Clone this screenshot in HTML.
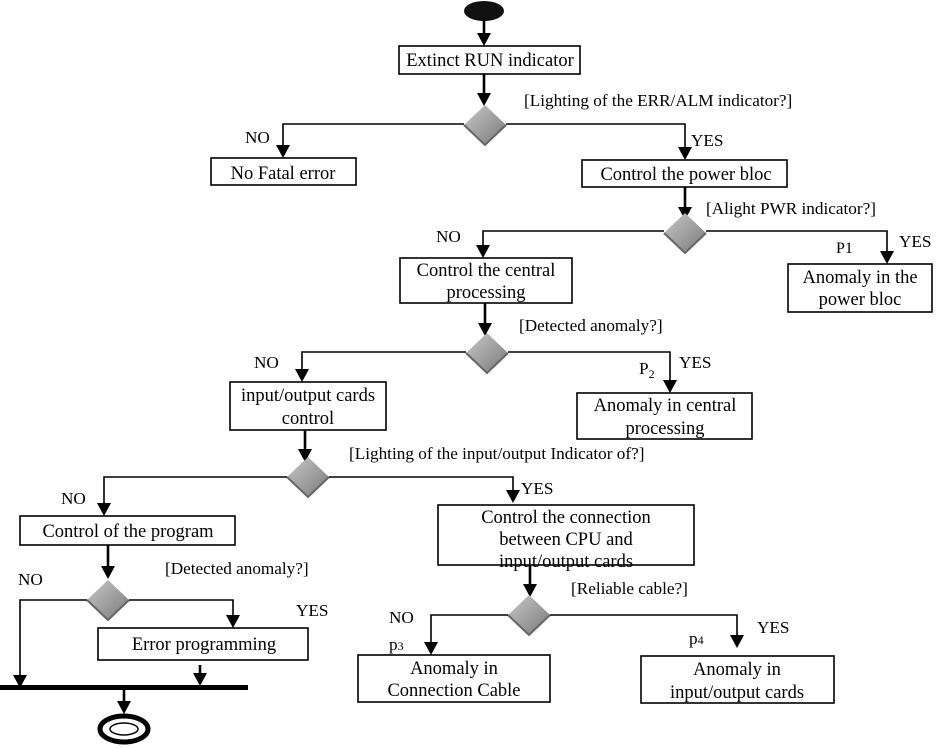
<!DOCTYPE html>
<html><head><meta charset="utf-8"><style>
html,body{margin:0;padding:0;background:#fff;}
svg{display:block;}
text{font-family:"Liberation Serif",serif;font-size:17.2px;fill:#000;}
text.t{font-size:18.5px;}
.b{fill:#fff;stroke:#000;stroke-width:1.6;}
.l{stroke:#000;stroke-width:1.6;fill:none;}
.v{stroke:#000;stroke-width:2.6;fill:none;}
</style></head><body>
<svg width="937" height="748" viewBox="0 0 937 748" xmlns="http://www.w3.org/2000/svg">
<defs>
<linearGradient id="g" x1="0" y1="0" x2="1" y2="1"><stop offset="0" stop-color="#c8c8c8"/><stop offset="0.6" stop-color="#999"/><stop offset="1" stop-color="#777"/></linearGradient>
<g id="d"><polygon points="0,-20 21,0 0,20 -21,0" fill="url(#g)"/><polyline points="21,0 0,20 -21,0" fill="none" stroke="#666" stroke-width="2"/></g>
<g id="ah"><polygon points="-7,-13 7,-13 0,0" fill="#000"/></g>
</defs>
<ellipse cx="484" cy="11" rx="20" ry="10" fill="#111"/>
<line class="v" x1="484" y1="20" x2="484" y2="36"/><use href="#ah" x="484" y="46"/>
<rect class="b" x="399" y="46" width="181" height="28"/>
<text class="t" x="490" y="66" text-anchor="middle">Extinct RUN indicator</text>
<line class="v" x1="484" y1="74" x2="484" y2="94"/><use href="#ah" x="484" y="106"/>
<use href="#d" x="485" y="125"/>
<text x="524" y="106">[Lighting of the ERR/ALM indicator?]</text>
<polyline class="l" points="464,124 283,124 283,146"/><use href="#ah" x="283" y="158"/>
<text x="245" y="143">NO</text>
<rect class="b" x="211" y="158" width="145" height="27"/>
<text class="t" x="283" y="179" text-anchor="middle">No Fatal error</text>
<polyline class="l" points="506,124 685,124 685,148"/><use href="#ah" x="685" y="160"/>
<text x="691" y="146">YES</text>
<rect class="b" x="582" y="160" width="205" height="27"/>
<text class="t" x="686" y="180" text-anchor="middle">Control the power bloc</text>
<line class="v" x1="685" y1="187" x2="685" y2="208"/><use href="#ah" x="685" y="220"/>
<use href="#d" x="685" y="233"/>
<text x="706" y="214">[Alight PWR indicator?]</text>
<polyline class="l" points="664,231 483,231 483,246"/><use href="#ah" x="483" y="258"/>
<text x="436" y="242">NO</text>
<rect class="b" x="400" y="258" width="172" height="45"/>
<text class="t" x="486" y="276" text-anchor="middle">Control the central</text>
<text class="t" x="486" y="298" text-anchor="middle">processing</text>
<polyline class="l" points="706,231 887,231 887,252"/><use href="#ah" x="887" y="264"/>
<text x="836" y="253" style="font-size:16px">P1</text>
<text x="899" y="247">YES</text>
<rect class="b" x="788" y="264" width="144" height="48"/>
<text class="t" x="860" y="283" text-anchor="middle">Anomaly in the</text>
<text class="t" x="860" y="305" text-anchor="middle">power bloc</text>
<line class="v" x1="485" y1="303" x2="485" y2="324"/><use href="#ah" x="485" y="336"/>
<use href="#d" x="487" y="353"/>
<text x="519" y="331">[Detected anomaly?]</text>
<polyline class="l" points="466,352 302,352 302,370"/><use href="#ah" x="302" y="382"/>
<text x="254" y="368">NO</text>
<rect class="b" x="230" y="382" width="156" height="48"/>
<text class="t" x="308" y="401" text-anchor="middle">input/output cards</text>
<text class="t" x="308" y="424" text-anchor="middle">control</text>
<polyline class="l" points="508,352 670,352 670,381"/><use href="#ah" x="670" y="393"/>
<text x="639" y="374">P<tspan font-size="12" dy="4">2</tspan></text>
<text x="679" y="368">YES</text>
<rect class="b" x="577" y="393" width="175" height="46"/>
<text class="t" x="665" y="411" text-anchor="middle">Anomaly in central</text>
<text class="t" x="665" y="434" text-anchor="middle">processing</text>
<line class="v" x1="305" y1="430" x2="305" y2="450"/><use href="#ah" x="305" y="462"/>
<use href="#d" x="308" y="477"/>
<text x="349" y="459">[Lighting of the input/output Indicator of?]</text>
<polyline class="l" points="287,477 104,477 104,504"/><use href="#ah" x="104" y="516"/>
<text x="61" y="504">NO</text>
<polyline class="l" points="329,477 513,477 513,491"/><use href="#ah" x="513" y="503"/>
<text x="521" y="494">YES</text>
<rect class="b" x="20" y="516" width="215" height="29"/>
<text class="t" x="128" y="537" text-anchor="middle">Control of the program</text>
<rect class="b" x="438" y="505" width="256" height="60"/>
<text class="t" x="566" y="523" text-anchor="middle">Control the connection</text>
<text class="t" x="566" y="545" text-anchor="middle">between CPU and</text>
<text class="t" x="566" y="567" text-anchor="middle">input/output cards</text>
<line class="v" x1="108" y1="545" x2="108" y2="567"/><use href="#ah" x="108" y="579"/>
<use href="#d" x="108" y="600"/>
<text x="165" y="574">[Detected anomaly?]</text>
<polyline class="l" points="87,600 20,600 20,676"/><use href="#ah" x="20" y="688"/>
<text x="18" y="585">NO</text>
<polyline class="l" points="129,600 233,600 233,616"/><use href="#ah" x="233" y="628"/>
<text x="296" y="616">YES</text>
<rect class="b" x="98" y="628" width="210" height="32"/>
<text class="t" x="204" y="650" text-anchor="middle">Error programming</text>
<line class="v" x1="200" y1="665" x2="200" y2="675"/><use href="#ah" x="200" y="686"/>
<rect x="0" y="685" width="248" height="5" fill="#000"/>
<line class="v" x1="124" y1="690" x2="124" y2="702"/><use href="#ah" x="124" y="714"/>
<ellipse cx="124" cy="729" rx="24" ry="13" fill="#fff" stroke="#000" stroke-width="5"/>
<ellipse cx="124" cy="729" rx="14" ry="6" fill="#fff" stroke="#000" stroke-width="1.5"/>
<line class="v" x1="530" y1="565" x2="530" y2="585"/><use href="#ah" x="530" y="597"/>
<use href="#d" x="529" y="615"/>
<text x="571" y="594">[Reliable cable?]</text>
<polyline class="l" points="508,615 431,615 431,643"/><use href="#ah" x="431" y="655"/>
<text x="389" y="623">NO</text>
<text x="389" y="650">p<tspan font-size="12">3</tspan></text>
<rect class="b" x="358" y="655" width="192" height="47"/>
<text class="t" x="454" y="674" text-anchor="middle">Anomaly in</text>
<text class="t" x="454" y="696" text-anchor="middle">Connection Cable</text>
<polyline class="l" points="550,615 737,615 737,636"/><use href="#ah" x="737" y="648"/>
<text x="757" y="633">YES</text>
<text x="689" y="644">p<tspan font-size="12">4</tspan></text>
<rect class="b" x="641" y="656" width="193" height="47"/>
<text class="t" x="737" y="675" text-anchor="middle">Anomaly in</text>
<text class="t" x="737" y="698" text-anchor="middle">input/output cards</text>
</svg>
</body></html>
